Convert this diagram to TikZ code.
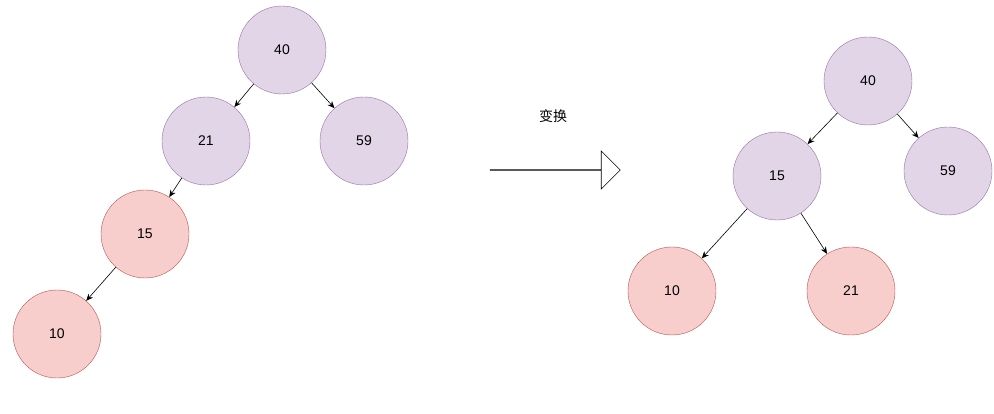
\documentclass[tikz,border=0pt]{standalone}
\usepackage{fontspec}
\setmainfont{Liberation Sans}
\newfontfamily\cjk{Noto Sans CJK SC}
\usetikzlibrary{arrows.meta,shapes.arrows}
\begin{document}
\begin{tikzpicture}[x=1pt,y=-1pt,
 nd/.style={circle,minimum size=88pt,inner sep=0pt,font=\fontsize{14}{16}\selectfont},
 pu/.style={nd,fill={rgb,255:red,225;green,213;blue,231},draw={rgb,255:red,150;green,115;blue,166}},
 rd/.style={nd,fill={rgb,255:red,248;green,206;blue,204},draw={rgb,255:red,184;green,84;blue,80}},
 ed/.style={-{Stealth[length=7pt,width=6pt]},line width=0.6pt}]
\useasboundingbox (0,0) rectangle (994,414);
\node[pu] (a40) at (282,50) {40};
\node[pu] (a21) at (206,141) {21};
\node[pu] (a59) at (364,141) {59};
\node[rd] (a15) at (145,234) {15};
\node[rd] (a10) at (57,334) {10};
\draw[ed] (a40) -- (a21);
\draw[ed] (a40) -- (a59);
\draw[ed] (a21) -- (a15);
\draw[ed] (a15) -- (a10);
\node[pu] (b40) at (868,81) {40};
\node[pu] (b15) at (777,176) {15};
\node[pu] (b59) at (948,171) {59};
\node[rd] (b10) at (672,291) {10};
\node[rd] (b21) at (851,291) {21};
\draw[ed] (b40) -- (b15);
\draw[ed] (b40) -- (b59);
\draw[ed] (b15) -- (b10);
\draw[ed] (b15) -- (b21);
\node[draw,single arrow,minimum height=130pt,minimum width=38pt,single arrow head extend=13pt,single arrow tip angle=90,inner sep=0pt,line width=0.6pt,single arrow head indent=0pt] (arr) at (555,170) {};
\node[font=\cjk\fontsize{14}{16}\selectfont] (t) at (553,116) {变换};
\end{tikzpicture}
\end{document}
